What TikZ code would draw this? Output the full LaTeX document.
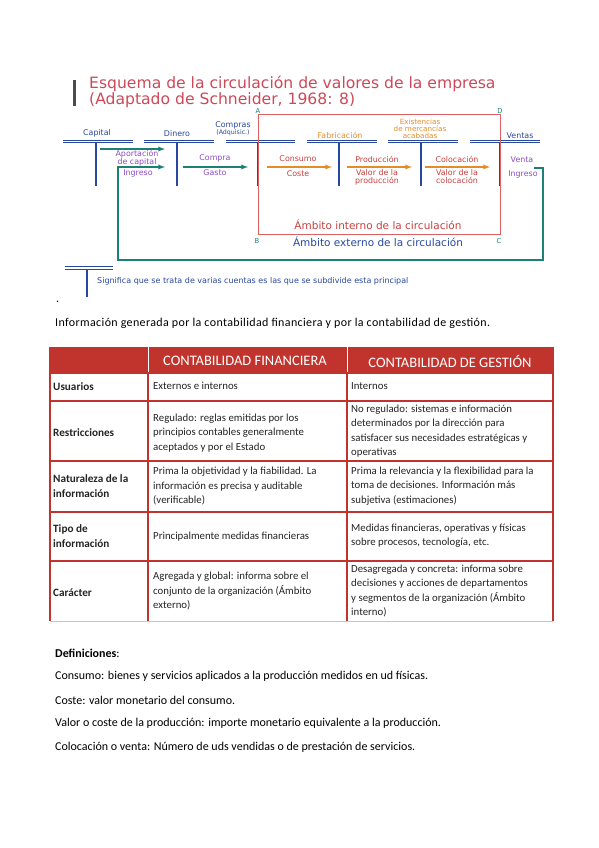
\documentclass[tikz,border=0pt]{standalone}
\usepackage{fontspec}
\setmainfont{Carlito}
\newfontfamily\diagfont{DejaVu Sans}
\usetikzlibrary{arrows}

\definecolor{titred}{RGB}{205,72,88}
\definecolor{acblue}{RGB}{40,72,160}
\definecolor{acteal}{RGB}{28,128,118}
\definecolor{acpurple}{RGB}{140,75,195}
\definecolor{acorange}{RGB}{228,140,40}
\definecolor{acred}{RGB}{200,62,62}
\definecolor{boxred}{RGB}{222,95,95}
\definecolor{tabred}{RGB}{192,52,45}
\definecolor{tabtext}{RGB}{35,35,35}

\begin{document}
\begin{tikzpicture}
    [
        x=1pt, y=-1pt,
        lbl/.style={font=\diagfont\fontsize{7.9}{7.9}\selectfont, inner sep=0pt, align=center},
        corner/.style={font=\diagfont\fontsize{6.8}{7}\selectfont, inner sep=0pt, text=acteal},
        account/.style={draw=acblue, double=white, double distance=1.6pt, line width=1pt},
        stem/.style={acblue, line width=1.8pt},
        flow/.style={->, >=latex, line width=1.3pt},
        hdr/.style={inner sep=0pt, text=white, font=\fontsize{14.5}{16}\selectfont},
        cell/.style={anchor=west, align=left, inner sep=0pt, text=tabtext, font=\fontsize{10.8}{14.3}\selectfont},
        rowhead/.style={cell, font=\bfseries\fontsize{11.2}{14.3}\selectfont},
        body/.style={anchor=west, inner sep=0pt, text=black, font=\fontsize{12}{14}\selectfont}
    ]
    \useasboundingbox (0,0) rectangle (599,848);

    % title
    \draw[line width=3pt, black!70] (74,80) -- (74,106);
    \node[anchor=west, align=left, inner sep=0pt, text=titred,
          font=\diagfont\fontsize{15.6}{15.5}\selectfont] (title) at (89,92)
        {Esquema de la circulación de valores de la empresa\\(Adaptado de Schneider, 1968: 8)};

    % accounts
    \foreach \xl/\xs/\xr in {63/96/133, 144/177/214, 226/258/295, 307/339/377, 388/421/458, 470/500/540}{
        \draw[account] (\xl,141.5) -- (\xr,141.5);
        \draw[stem] (\xs,143) -- (\xs,186);
    }
    \node[lbl, text=acblue] (capital) at (97,133) {Capital};
    \node[lbl, text=acblue] (dinero) at (177,134) {Dinero};
    \node[lbl, text=acblue] (compras) at (233,129)
        {Compras\\[-0.5pt]{\fontsize{6.3}{6.5}\selectfont(Adquisic.)}};
    \node[lbl, text=acorange] (fabric) at (340,135) {Fabricación};
    \node[lbl, text=acorange, font=\diagfont\fontsize{7.2}{6.8}\selectfont] (exist) at (420,129)
        {Existencias\\de mercancías\\acabadas};
    \node[lbl, text=acblue] (ventas) at (520,136) {Ventas};

    % ambitos
    \draw[boxred, line width=1pt] (258,115) rectangle (500,234);
    \node[corner] (ca) at (258,111.5) {A};
    \node[corner] (cd) at (500,111) {D};
    \node[corner] (cb) at (257,241) {B};
    \node[corner] (cc) at (499,241) {C};
    \node[lbl, text=acred, font=\diagfont\fontsize{10.5}{10}\selectfont] (interno) at (378,225)
        {Ámbito interno de la circulación};
    \node[lbl, text=acblue, font=\diagfont\fontsize{10.5}{10}\selectfont] (externo) at (378,242)
        {Ámbito externo de la circulación};

    % flows
    \coordinate (aport-s) at (100,149);
    \coordinate (aport-e) at (165,149);
    \coordinate (ing-v) at (534,168);
    \coordinate (ing-d) at (165,167);
    \coordinate (ret-r) at (543,260);
    \coordinate (ret-l) at (118,260);
    \coordinate (comp-s) at (183,167);
    \coordinate (comp-e) at (248,167);
    \coordinate (cons-s) at (267,167);
    \coordinate (cons-e) at (332,167);
    \coordinate (prod-s) at (347,167);
    \coordinate (prod-e) at (412,167);
    \coordinate (coloc-s) at (425,167);
    \coordinate (coloc-e) at (490,167);

    \draw[flow, acteal] (aport-s) -- (aport-e);
    \draw[flow, acteal] (ing-v) -| (ret-r) -- (ret-l) |- (ing-d);
    \draw[flow, acteal] (comp-s) -- (comp-e);
    \draw[flow, acorange] (cons-s) -- (cons-e);
    \draw[flow, acorange] (prod-s) -- (prod-e);
    \draw[flow, acorange] (coloc-s) -- (coloc-e);

    \node[lbl, text=acpurple] (aport) at (137,158) {Aportación\\de capital};
    \node[lbl, text=acpurple] (ingreso) at (138,173) {Ingreso};
    \node[lbl, text=acpurple] (compra) at (215,158) {Compra};
    \node[lbl, text=acpurple] (gasto) at (215,173) {Gasto};
    \node[lbl, text=acred] (consumo) at (298,159) {Consumo};
    \node[lbl, text=acred] (coste) at (298,174) {Coste};
    \node[lbl, text=acred] (produc) at (377,159) {Producción};
    \node[lbl, text=acred] (valprod) at (377,177) {Valor de la\\producción};
    \node[lbl, text=acred] (coloc) at (457,159) {Colocación};
    \node[lbl, text=acred] (valcol) at (457,177) {Valor de la\\colocación};
    \node[lbl, text=acpurple] (venta) at (522,160) {Venta};
    \node[lbl, text=acpurple] (ingventa) at (523,174) {Ingreso};

    % leyenda
    \draw[account] (65,268) -- (113,268);
    \draw[stem] (87,269.5) -- (87,297);
    \node[anchor=west, inner sep=0pt, text=acblue, font=\diagfont\fontsize{8}{8}\selectfont] (legend) at (97,281)
        {Significa que se trata de varias cuentas es las que se subdivide esta principal};

    \node[body] (dot) at (56,302) {.};
    \node[body] (info) at (55,323)
        {\addfontfeature{LetterSpace=3}Información generada por la contabilidad financiera y por la contabilidad de gestión.};

    % tabla
    \fill[tabred] (50,347) rectangle (553,373);
    \draw[white, line width=0.8pt] (148,347) -- (148,373) (347,347) -- (347,373);
    \draw[tabred, line width=1.4pt] (50,347) -- (50,621) (553,347) -- (553,621)
        (148,373) -- (148,621) (347,373) -- (347,621)
        (50,373) -- (553,373) (50,401) -- (553,401) (50,461) -- (553,461)
        (50,512) -- (553,512) (50,561) -- (553,561);
    \draw[tabred!35, line width=1pt] (50,621) -- (553,621);

    \node[hdr] (h-fin) at (245,361) {CONTABILIDAD FINANCIERA};
    \node[hdr] (h-ges) at (450,361) {CONTABILIDAD DE GESTIÓN};

    \node[rowhead] (r-usu) at (53,387) {Usuarios};
    \node[rowhead] (r-res) at (53,433) {Restricciones};
    \node[rowhead] (r-nat) at (53,486) {Naturaleza de la\\información};
    \node[rowhead] (r-tip) at (53,536) {Tipo de\\información};
    \node[rowhead] (r-car) at (53,593) {Carácter};

    \node[cell] (f-usu) at (153,386) {Externos e internos};
    \node[cell] (f-res) at (153,433) {Regulado: reglas emitidas por los\\principios contables generalmente\\aceptados y por el Estado};
    \node[cell] (f-nat) at (153,486) {Prima la objetividad y la fiabilidad. La\\información es precisa y auditable\\(verificable)};
    \node[cell] (f-tip) at (153,537) {Principalmente medidas financieras};
    \node[cell] (f-car) at (153,591) {Agregada y global: informa sobre el\\conjunto de la organización (Ámbito\\externo)};

    \node[cell] (g-usu) at (351,386) {Internos};
    \node[cell] (g-res) at (351,431) {No regulado: sistemas e información\\determinados por la dirección para\\satisfacer sus necesidades estratégicas y\\operativas};
    \node[cell] (g-nat) at (351,486) {Prima la relevancia y la flexibilidad para la\\toma de decisiones. Información más\\subjetiva (estimaciones)};
    \node[cell] (g-tip) at (351,536) {Medidas financieras, operativas y físicas\\sobre procesos, tecnología, etc.};
    \node[cell] (g-car) at (351,591) {Desagregada y concreta: informa sobre\\decisiones y acciones de departamentos\\y segmentos de la organización (Ámbito\\interno)};

    % definiciones
    \node[body] (def) at (55,653) {\textbf{Definiciones}:};
    \node[body] (d-cons) at (55,676) {Consumo: bienes y servicios aplicados a la producción medidos en ud físicas.};
    \node[body] (d-cost) at (55,700) {Coste: valor monetario del consumo.};
    \node[body] (d-val) at (55,723) {Valor o coste de la producción: importe monetario equivalente a la producción.};
    \node[body] (d-col) at (55,747) {Colocación o venta: Número de uds vendidas o de prestación de servicios.};
\end{tikzpicture}
\end{document}
